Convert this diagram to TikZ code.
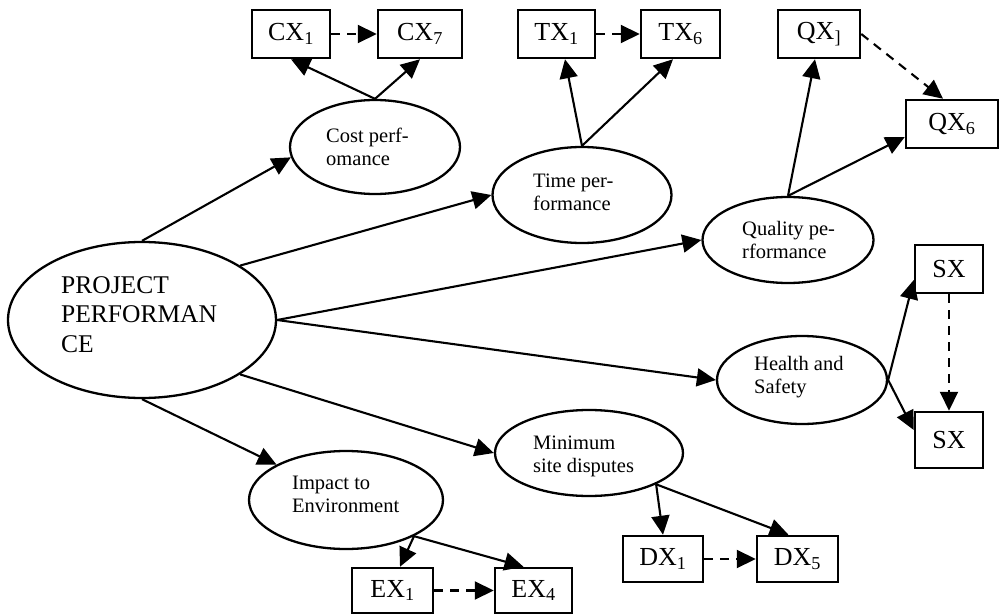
\documentclass[tikz,border=0pt]{standalone}
\usepackage{fontspec}
\setmainfont{Liberation Serif}
\usetikzlibrary{arrows.meta,shapes.geometric}
\begin{document}
\begin{tikzpicture}[x=1pt,y=-1pt,
  factor/.style={draw, ellipse, line width=2.3pt, inner sep=0pt},
  indicator/.style={draw, rectangle, line width=2.5pt, inner sep=0pt,
    minimum height=48pt, font=\fontsize{26}{30}\selectfont},
  lbl/.style={anchor=base west, align=left, inner sep=0pt,
    font=\fontsize{20.5}{23}\selectfont},
  link/.style={line width=2.1pt, -{Triangle[length=19pt,width=18pt]}},
  chain/.style={link, dash pattern=on 9pt off 7pt}
]
\useasboundingbox (0,0) rectangle (999,615);

% central construct (text nodes are placed by the baseline of their last line)
\node[factor, minimum width=268pt, minimum height=156pt] (pp) at (142,320) {};
\node[anchor=base west, align=left, inner sep=0pt,
      font=\fontsize{25.5}{29.5}\selectfont] (ppT) at (61,352)
      {PROJECT\\PERFORMAN\\CE};

% performance dimensions
\node[factor, minimum width=170pt, minimum height=94pt]  (cost) at (375,147) {};
\node[factor, minimum width=179pt, minimum height=96pt]  (time) at (582,195) {};
\node[factor, minimum width=171pt, minimum height=86pt]  (qual) at (788,240) {};
\node[factor, minimum width=170pt, minimum height=88pt]  (hs)   at (802,380) {};
\node[factor, minimum width=188pt, minimum height=86pt]  (mini) at (589,453) {};
\node[factor, minimum width=194pt, minimum height=98pt]  (env)  at (346,500) {};

\node[lbl] (costT) at (326,165) {Cost perf-\\omance};
\node[lbl] (timeT) at (533,210) {Time per-\\formance};
\node[lbl] (qualT) at (742,258) {Quality pe-\\rformance};
\node[lbl] (hsT)   at (754,393) {Health and\\Safety};
\node[lbl] (miniT) at (533,472) {Minimum\\site disputes};
\node[lbl] (envT)  at (292,512) {Impact to\\Environment};

% indicators
\node[indicator, minimum width=78pt] (cx1) at (291,34)  {CX\textsubscript{1}};
\node[indicator, minimum width=84pt] (cx7) at (420,34)  {CX\textsubscript{7}};
\node[indicator, minimum width=77pt] (tx1) at (556.5,34) {TX\textsubscript{1}};
\node[indicator, minimum width=79pt] (tx6) at (680.5,34) {TX\textsubscript{6}};
\node[indicator, minimum width=82pt] (qx1) at (819,34)  {QX\textsubscript{]}};
\node[indicator, minimum width=92pt] (qx6) at (952,124) {QX\textsubscript{6}};
\node[indicator, minimum width=68pt] (sx1) at (949,269) {SX};
\node[indicator, minimum width=68pt, minimum height=56pt] (sx2) at (949,440) {SX};
\node[indicator, minimum width=80pt, minimum height=46pt] (dx1) at (663,559) {DX\textsubscript{1}};
\node[indicator, minimum width=81pt, minimum height=46pt] (dx5) at (797.5,559) {DX\textsubscript{5}};
\node[indicator, minimum width=81pt, minimum height=45pt] (ex1) at (392.5,590.5) {EX\textsubscript{1}};
\node[indicator, minimum width=77pt, minimum height=45pt] (ex4) at (533.5,590.5) {EX\textsubscript{4}};

% paths from the central construct
\draw[link] (pp.north) -- (cost.187);
\draw[link] (pp.29)    -- (time.west);
\draw[link] (pp.east)  -- (qual.west);
\draw[link] (pp.east)  -- (hs.west);
\draw[link] (pp.-29)   -- (mini.west);
\draw[link] (pp.south) -- (env.153);

% loadings
\draw[link] (cost.north) -- (cx1.south);
\draw[link] (cost.north) -- (cx7.south);
\draw[link] (time.north) -- ([xshift=8.5pt]tx1.south);
\draw[link] (time.north) -- ([xshift=-7.5pt]tx6.south);
\draw[link] (qual.north) -- ([xshift=-4pt]qx1.south);
\draw[link] (qual.north) -- ([yshift=-13pt]qx6.west);
\draw[link] (hs.east) -- ([yshift=-11pt]sx1.west);
\draw[link] (hs.east) -- ([yshift=10pt]sx2.west);
\draw[link] (mini.-25) -- (dx1.north);
\draw[link] (mini.-25) -- ([xshift=-9pt]dx5.north);
\draw[link] (env.-28) -- ([xshift=7.5pt]ex1.north);
\draw[link] (env.-28) -- ([xshift=-10pt]ex4.north);

% indicator sequences
\draw[chain] (cx1.east) -- (cx7.west);
\draw[chain] (tx1.east) -- (tx6.west);
\draw[chain] (qx1.east) -- ([xshift=-9pt]qx6.north);
\draw[chain] (sx1.south) -- (sx2.north);
\draw[chain] (dx1.east) -- (dx5.west);
\draw[chain] (ex1.east) -- (ex4.west);
\end{tikzpicture}
\end{document}
